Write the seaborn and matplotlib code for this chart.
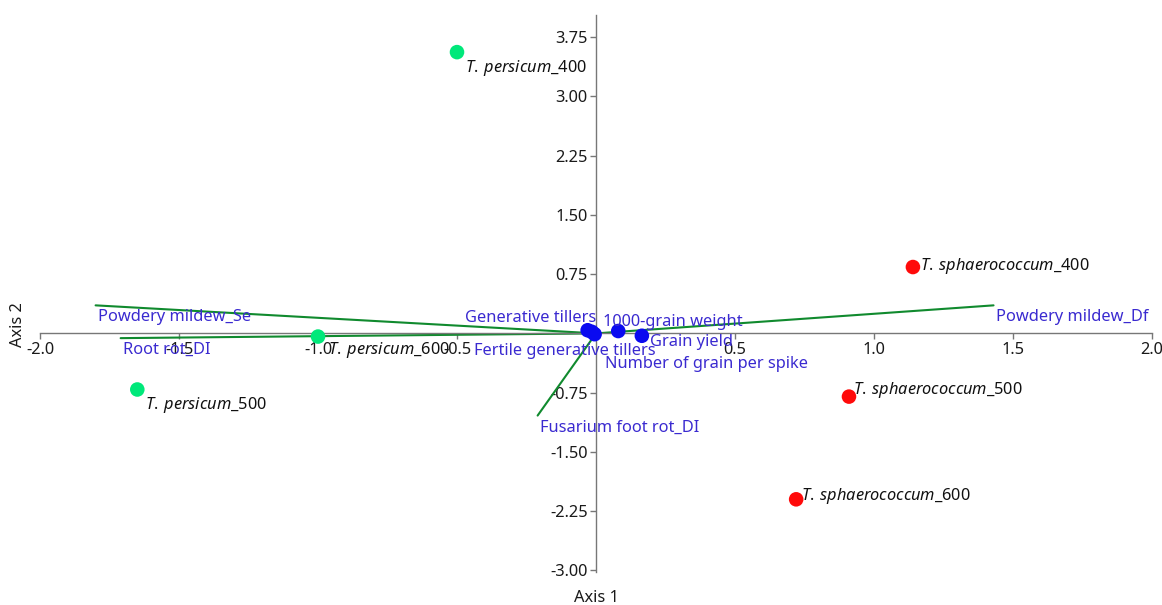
import matplotlib
matplotlib.use("Agg")
import matplotlib.pyplot as plt
import seaborn as sns
import pandas as pd

# Sample (genotype x treatment) scores
sample_names = ["T. persicum_400", "T. persicum_500", "T. persicum_600",
                "T. sphaerococcum_400", "T. sphaerococcum_500", "T. sphaerococcum_600"]
sample_species = ["T. persicum", "T. persicum", "T. persicum",
                  "T. sphaerococcum", "T. sphaerococcum", "T. sphaerococcum"]
sample_ax1 = [-0.50, -1.65, -1.00, 1.14, 0.91, 0.72]
sample_ax2 = [3.56, -0.71, -0.04, 0.84, -0.80, -2.10]

# Trait scores (points near the origin)
trait_names = ["Generative tillers", "Fertile generative tillers", "1000-grain weight",
               "Grain yield", "Number of grain per spike"]
trait_ax1 = [-0.03, -0.005, 0.08, 0.165, -0.015]
trait_ax2 = [0.04, -0.01, 0.03, -0.03, 0.02]

# Disease vectors (drawn from the origin)
vector_names = ["Powdery mildew_Se", "Root rot_DI", "Powdery mildew_Df", "Fusarium foot rot_DI"]
vector_ax1 = [-1.80, -1.71, 1.43, -0.21]
vector_ax2 = [0.355, -0.06, 0.355, -1.04]

x_ticks = [-2.0, -1.5, -1.0, -0.5, 0.5, 1.0, 1.5, 2.0]
y_ticks = [-3.00, -2.25, -1.50, -0.75, 0.75, 1.50, 2.25, 3.00, 3.75]

# label offsets in pixels (style only)
sample_offsets = [(8, -16), (8, -16), (10, -13), (7, 1), (4, 7), (5, 3)]
trait_offsets = [(9, 12, "right"), (-121, -17, "left"), (-15, 9, "left"),
                 (8, -6, "left"), (13, -32, "left")]
vector_offset = (2, -12)

sns.set_theme(style="white")
plt.rcParams["font.family"] = ["Noto Sans", "DejaVu Sans"]
plt.rcParams["mathtext.fontset"] = "custom"
plt.rcParams["mathtext.it"] = "Noto Sans:italic"
plt.rcParams["mathtext.rm"] = "Noto Sans"

FS = 11.8

fig = plt.figure(figsize=(11.62, 6.05), dpi=100)
ax = fig.add_axes([40 / 1162, 1 - 572 / 605, 1112 / 1162, 557 / 605])

samples = pd.DataFrame({"ax1": sample_ax1, "ax2": sample_ax2,
                        "species": sample_species, "name": sample_names})
traits = pd.DataFrame({"ax1": trait_ax1, "ax2": trait_ax2, "name": trait_names})

text_blue = "#3a2ad0"
vec_green = "#108a2e"

# vectors
for vx, vy, vn in zip(vector_ax1, vector_ax2, vector_names):
    ax.plot([0, vx], [0, vy], color=vec_green, lw=1.5, zorder=2)
    ax.annotate(vn, (vx, vy), xytext=vector_offset, textcoords="offset pixels",
                ha="left", va="center", color=text_blue, fontsize=FS, zorder=5)

# trait points
sns.scatterplot(data=traits, x="ax1", y="ax2", color="#0a0af0", s=110,
                edgecolor="none", ax=ax, zorder=4, legend=False)
for tx, ty, tn, (ox, oy, ha) in zip(trait_ax1, trait_ax2, trait_names, trait_offsets):
    ax.annotate(tn, (tx, ty), xytext=(ox, oy), textcoords="offset pixels",
                ha=ha, va="center", color=text_blue, fontsize=FS, zorder=5)

# sample points
sns.scatterplot(data=samples, x="ax1", y="ax2", hue="species",
                palette={"T. persicum": "#00e87a", "T. sphaerococcum": "#ff0a0a"},
                s=110, edgecolor="none", ax=ax, zorder=4, legend=False)
for sx, sy, sn, (ox, oy) in zip(sample_ax1, sample_ax2, sample_names, sample_offsets):
    genus_sp, suffix = sn.split("_")
    g, sp = genus_sp.split(" ")
    label = r"$\mathit{" + g + r"\:" + sp + "}$_" + suffix
    ax.annotate(label, (sx, sy), xytext=(ox, oy), textcoords="offset pixels",
                ha="left", va="center", color="#111111", fontsize=FS, zorder=5)

ax.set_xlim(-2.0, 2.0)
ax.set_ylim(-3.02, 4.03)
ax.set_xticks(x_ticks)
ax.set_xticklabels([f"{v:.1f}" for v in x_ticks])
ax.set_yticks(y_ticks)
ax.set_yticklabels([f"{v:.2f}" for v in y_ticks])

for side in ["top", "right"]:
    ax.spines[side].set_visible(False)
ax.spines["left"].set_position(("data", 0))
ax.spines["bottom"].set_position(("data", 0))
for side in ["left", "bottom"]:
    ax.spines[side].set_color("#777777")
    ax.spines[side].set_linewidth(1.0)
ax.tick_params(axis="both", direction="out", length=4, width=1, color="#777777",
               labelsize=11.8, labelcolor="#1a1a1a", pad=2)
ax.tick_params(axis="x", bottom=True)
ax.tick_params(axis="y", left=True)
ax.set_xlabel("")
ax.set_ylabel("")
ax.patch.set_alpha(0)

fig.text(596 / 1162, 1 - 598 / 605, "Axis 1", ha="center", va="center",
         fontsize=11.8, color="#1a1a1a")
fig.text(18 / 1162, 1 - 325 / 605, "Axis 2", ha="center", va="center",
         rotation=90, fontsize=11.8, color="#1a1a1a")

fig.savefig("out.png", dpi=100, facecolor="white")
